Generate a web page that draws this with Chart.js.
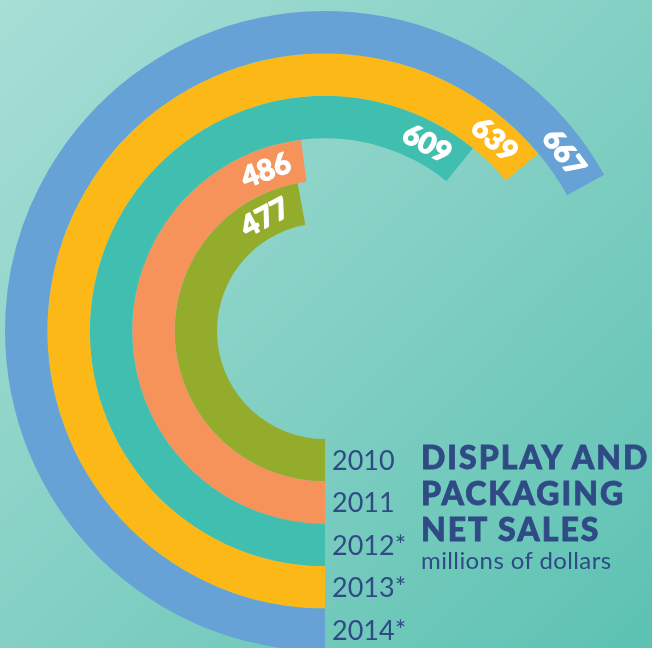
<!DOCTYPE html>
<html>
<head>
<meta charset="utf-8">
<script src="https://cdn.jsdelivr.net/npm/chart.js@4"></script>
<style>
    html, body { margin: 0; padding: 0; }
    body {
        width: 652px; height: 648px; overflow: hidden; position: relative;
        background: linear-gradient(135deg, #a7ded6 0%, #84d0c4 50%, #5cc2b2 100%);
        font-family: Lato, "Open Sans", sans-serif;
    }
    #salesChart { position: absolute; left: 0; top: 0; }
    .title {
        position: absolute; left: 421px; color: #2f4a85;
        font-weight: 900; font-size: 32px; line-height: 32px; letter-spacing: 2px;
        -webkit-text-stroke: 0.8px #2f4a85; white-space: nowrap;
    }
    .subtitle {
        position: absolute; left: 421px; top: 548px; color: #2f4a85;
        font-weight: 400; font-size: 24px; line-height: 24px; letter-spacing: 0.4px;
        white-space: nowrap;
    }
</style>
</head>
<body>
<canvas id="salesChart" width="652" height="648"></canvas>
<div class="title" style="top:441px">DISPLAY AND</div>
<div class="title" style="top:477px">PACKAGING</div>
<div class="title" style="top:513px">NET SALES</div>
<div class="subtitle">millions of dollars</div>

<script>
// 1. DATOS
const years = ['2010', '2011', '2012*', '2013*', '2014*'];
const sales = [477, 486, 609, 639, 667];
const ringColors = ['#94ac2c', '#f6935b', '#40bfb0', '#fbb817', '#66a2d6'];

// the rings start at the bottom; arc length counts from a base of 25 on a 960 turn
const arcBase = 25;
const arcFull = 960;
const navy = '#2f4a85';

// outermost ring first (2014), innermost last (2010)
const datasets = [];
for (let i = years.length - 1; i >= 0; i--) {
    const span = sales[i] - arcBase;
    datasets.push({
        label: years[i],
        year: years[i],
        value: sales[i],
        data: [span, arcFull - span],
        backgroundColor: [ringColors[i], 'rgba(0,0,0,0)'],
        borderWidth: 0,
        hoverOffset: 0,
        clip: false
    });
}

// 2. ETIQUETAS: valor al final de cada arco y año debajo del centro
const arcLabels = {
    id: 'arcLabels',
    afterDatasetsDraw(chart) {
        const ctx = chart.ctx;
        chart.data.datasets.forEach((ds, i) => {
            const arc = chart.getDatasetMeta(i).data[0];
            const r = (arc.innerRadius + arc.outerRadius) / 2;
            const a = arc.endAngle - 39 / r;

            ctx.save();
            ctx.translate(arc.x + Math.cos(a) * r, arc.y + Math.sin(a) * r);
            ctx.rotate(a + Math.PI / 2);
            ctx.font = '900 29px Lato, "Open Sans", sans-serif';
            ctx.fillStyle = '#ffffff';
            ctx.strokeStyle = '#ffffff';
            ctx.lineWidth = 1.2;
            ctx.lineJoin = 'round';
            ctx.textAlign = 'center';
            ctx.textBaseline = 'middle';
            ctx.strokeText(String(ds.value), 0, 1);
            ctx.fillText(String(ds.value), 0, 1);
            ctx.restore();

            ctx.save();
            ctx.font = '400 27px Lato, "Open Sans", sans-serif';
            ctx.fillStyle = navy;
            ctx.textAlign = 'left';
            ctx.textBaseline = 'middle';
            ctx.fillText(ds.year, arc.x + 7, arc.y + r + 1);
            ctx.restore();
        });
    }
};

// 3. GRÁFICO
const ctx = document.getElementById('salesChart').getContext('2d');
const salesChart = new Chart(ctx, {
    type: 'doughnut',
    data: { labels: ['sales', ''], datasets: datasets },
    options: {
        responsive: false,
        animation: false,
        rotation: 180,
        circumference: 360,
        radius: 320,
        cutout: '33.75%',
        layout: { padding: { left: 5, right: 7, top: 14, bottom: 0 } },
        plugins: {
            legend: { display: false },
            tooltip: { enabled: false }
        },
        events: []
    },
    plugins: [arcLabels]
});
</script>
</body>
</html>
